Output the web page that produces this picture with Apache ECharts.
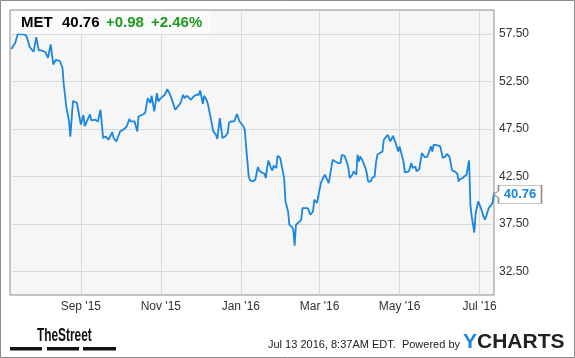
<!DOCTYPE html>
<html><head><meta charset="utf-8">
<script src="https://cdn.jsdelivr.net/npm/echarts@6/dist/echarts.min.js"></script>
<style>html,body{margin:0;padding:0;background:#fff}#c{width:575px;height:358px}</style>
</head><body><div id="c"></div>
<script>
const dates = [
'2015-07-10','2015-07-13','2015-07-14','2015-07-15','2015-07-17','2015-07-19','2015-07-21','2015-07-22','2015-07-24','2015-07-27',
'2015-07-29','2015-07-31','2015-08-02','2015-08-03','2015-08-05','2015-08-07','2015-08-09','2015-08-11','2015-08-13','2015-08-16',
'2015-08-18','2015-08-19','2015-08-21','2015-08-23','2015-08-24','2015-08-26','2015-08-29','2015-08-30','2015-09-01','2015-09-03',
'2015-09-04','2015-09-07','2015-09-08','2015-09-09','2015-09-12','2015-09-14','2015-09-16','2015-09-18','2015-09-20','2015-09-22',
'2015-09-23','2015-09-25','2015-09-26','2015-09-28','2015-10-01','2015-10-02','2015-10-04','2015-10-06','2015-10-08','2015-10-09',
'2015-10-12','2015-10-14','2015-10-15','2015-10-18','2015-10-20','2015-10-21','2015-10-22','2015-10-24','2015-10-25','2015-10-27',
'2015-10-29','2015-10-30','2015-11-01','2015-11-04','2015-11-06','2015-11-08','2015-11-09','2015-11-10','2015-11-12','2015-11-14',
'2015-11-16','2015-11-17','2015-11-18','2015-11-19','2015-11-21','2015-11-22','2015-11-24','2015-11-26','2015-11-28','2015-11-30',
'2015-12-01','2015-12-03','2015-12-04','2015-12-06','2015-12-07','2015-12-09','2015-12-10','2015-12-11','2015-12-13','2015-12-14',
'2015-12-16','2015-12-18','2015-12-20','2015-12-22','2015-12-23','2015-12-25','2015-12-27','2015-12-29','2015-12-31','2016-01-01',
'2016-01-03','2016-01-04','2016-01-05','2016-01-07','2016-01-08','2016-01-10','2016-01-11','2016-01-12','2016-01-14','2016-01-15',
'2016-01-17','2016-01-19','2016-01-20','2016-01-21','2016-01-22','2016-01-24','2016-01-25','2016-01-26','2016-01-28','2016-01-29',
'2016-01-31','2016-02-01','2016-02-03','2016-02-04','2016-02-06','2016-02-07','2016-02-09','2016-02-10','2016-02-11','2016-02-12',
'2016-02-14','2016-02-16','2016-02-17','2016-02-19','2016-02-21','2016-02-23','2016-02-25','2016-02-26','2016-02-28','2016-02-29',
'2016-03-02','2016-03-03','2016-03-05','2016-03-06','2016-03-08','2016-03-09','2016-03-11','2016-03-13','2016-03-15','2016-03-17',
'2016-03-18','2016-03-20','2016-03-22','2016-03-23','2016-03-24','2016-03-26','2016-03-27','2016-03-29','2016-03-30','2016-03-31',
'2016-04-01','2016-04-03','2016-04-05','2016-04-06','2016-04-07','2016-04-09','2016-04-10','2016-04-12','2016-04-13','2016-04-14',
'2016-04-16','2016-04-18','2016-04-19','2016-04-20','2016-04-22','2016-04-23','2016-04-24','2016-04-26','2016-04-27','2016-04-28',
'2016-04-30','2016-05-01','2016-05-02','2016-05-04','2016-05-05','2016-05-06','2016-05-08','2016-05-09','2016-05-10','2016-05-11',
'2016-05-13','2016-05-14','2016-05-16','2016-05-17','2016-05-18','2016-05-20','2016-05-21','2016-05-22','2016-05-23','2016-05-25',
'2016-05-26','2016-05-27','2016-05-28','2016-05-30','2016-06-01','2016-06-02','2016-06-03','2016-06-05','2016-06-06','2016-06-08',
'2016-06-09','2016-06-10','2016-06-12','2016-06-14','2016-06-15','2016-06-16','2016-06-18','2016-06-19','2016-06-21','2016-06-22',
'2016-06-23','2016-06-24','2016-06-25','2016-06-27','2016-06-28','2016-06-30','2016-07-02','2016-07-04','2016-07-05','2016-07-06',
'2016-07-08','2016-07-10','2016-07-11','2016-07-12'
];
const prices = [
55.90,56.55,56.73,57.53,57.43,57.43,57.36,57.08,56.10,55.60,
57.15,55.74,55.74,55.82,55.57,54.97,56.37,54.27,54.76,54.63,
53.92,52.16,49.71,48.31,46.66,50.42,50.24,50.06,47.95,48.94,
47.78,48.73,49.01,48.37,48.45,48.27,49.50,46.52,46.69,46.34,
46.52,47.15,46.52,46.16,47.22,47.05,47.47,47.74,48.52,48.27,
48.27,47.22,48.79,48.97,49.15,49.32,50.73,50.21,50.97,49.32,
51.26,50.37,50.73,51.08,51.68,51.08,50.73,50.55,49.50,49.85,
50.21,50.37,51.08,50.73,50.97,50.84,50.55,50.90,51.08,51.08,
51.53,50.13,50.97,50.48,50.03,48.63,48.79,47.22,46.87,46.42,
48.63,46.52,46.69,47.05,48.16,48.27,48.27,49.05,48.27,48.10,
47.74,47.39,45.64,42.48,42.06,41.95,41.78,42.13,43.47,43.11,
42.90,42.76,42.31,43.36,44.16,43.36,43.11,43.61,43.36,44.66,
44.42,44.24,42.31,39.85,38.79,37.39,37.15,36.87,35.18,37.39,
37.64,37.92,39.15,39.15,39.15,38.45,38.79,40.03,39.68,39.85,
41.78,42.13,42.66,42.84,41.78,41.95,44.24,44.06,43.89,43.89,
44.76,44.66,43.89,43.36,42.31,42.66,43.01,42.66,44.76,44.06,
44.58,44.06,43.36,42.84,41.95,41.95,42.31,42.48,43.89,44.76,
44.94,45.11,46.34,46.16,46.87,46.52,46.16,46.76,46.69,45.99,
45.11,45.64,45.82,44.06,42.90,43.01,43.01,42.90,43.89,43.36,
43.53,43.01,43.26,43.36,44.94,44.52,44.66,44.52,44.66,45.64,
45.11,45.82,45.64,45.74,45.64,45.74,44.42,44.58,44.84,44.58,
43.89,43.11,43.01,42.76,41.95,42.21,42.31,42.48,42.66,42.84,
44.16,39.50,38.27,36.58,38.63,39.85,39.15,38.27,37.92,38.27,
39.15,39.50,39.78,40.76
];
const xTickDates = ['2015-09-01','2015-11-01','2016-01-01','2016-03-01','2016-05-01','2016-07-01'];
const yTickValues = [32.5, 37.5, 42.5, 47.5, 52.5, 57.5];
const xRange = ['2015-07-09', '2016-07-12'];
const yRange = [30, 60];
const ticker = 'MET';
const lastPrice = '40.76';
const change = '+0.98';
const changePct = '+2.46%';
const stamp = 'Jul 13 2016, 8:37AM EDT.  Powered by';
const MONTHS = ['Jan','Feb','Mar','Apr','May','Jun','Jul','Aug','Sep','Oct','Nov','Dec'];

const FONT = '"Liberation Sans", Arial, Helvetica, sans-serif';
const BLUE = '#1a86e0';
const GREEN = '#1e9a1e';
const ts = s => echarts.number.parseDate(s).getTime();
const xTicks = xTickDates.map(ts);
const last = dates.length - 1;

const chart = echarts.init(document.getElementById('c'), null, {renderer: 'canvas'});
chart.setOption({
  animation: false,
  backgroundColor: '#fff',
  grid: {left: 10, top: 10, right: 81, bottom: 63, show: true, backgroundColor: '#f6f6f6',
         borderColor: '#8c8c8c', borderWidth: 1, containLabel: false},
  xAxis: {
    type: 'value', min: ts(xRange[0]), max: ts(xRange[1]),
    axisLine: {show: false},
    axisTick: {show: false, customValues: xTicks},
    axisLabel: {customValues: xTicks, color: '#333', fontSize: 12, fontFamily: FONT, margin: 6,
      formatter: v => { const d = new Date(v); return MONTHS[d.getMonth()] + " '" + String(d.getFullYear()).slice(2); }},
    splitLine: {show: true, lineStyle: {color: '#d9d9d9', width: 1}}
  },
  yAxis: {
    type: 'value', position: 'right', min: yRange[0], max: yRange[1],
    axisLine: {show: false},
    axisTick: {show: false, customValues: yTickValues},
    axisLabel: {customValues: yTickValues, color: '#333', fontSize: 12, fontFamily: FONT, margin: 5,
      formatter: v => Number(v).toFixed(2)},
    splitLine: {show: true, lineStyle: {color: '#d9d9d9', width: 1}}
  },
  series: [{
    type: 'line', data: dates.map((d, i) => [ts(d), prices[i]]),
    showSymbol: false, symbol: 'none', silent: true,
    lineStyle: {color: BLUE, width: 1.8},
    markPoint: {
      silent: true,
      symbol: 'path://M0,9 L5,5.5 L5,0 L48,0 L48,18 L5,18 L5,12.5 Z',
      symbolSize: [48, 18], symbolOffset: [23.5, 1.5],
      itemStyle: {color: '#fff', borderColor: '#8c8c8c', borderWidth: 1},
      label: {show: true, position: 'inside', offset: [2.5, 0], color: BLUE, fontWeight: 'bold',
              fontSize: 13, fontFamily: FONT, formatter: p => Number(p.value).toFixed(2)},
      data: [{coord: [ts(dates[last]), prices[last]], value: prices[last]}]
    }
  }],
  graphic: [
    {type: 'rect', z: 100, silent: true, shape: {x: 0.5, y: 0.5, width: 574, height: 357},
     style: {fill: 'none', stroke: '#8c8c8c', lineWidth: 1}},
    {type: 'rect', z: 100, silent: true, shape: {x: 11, y: 11, width: 200, height: 23},
     style: {fill: 'rgba(255,255,255,0.6)'}},
    {type: 'text', z: 101, x: 21, y: 23, silent: true,
     style: {text: ticker, font: 'bold 15px ' + FONT, fill: '#000', verticalAlign: 'middle'}},
    {type: 'text', z: 101, x: 62, y: 23, silent: true,
     style: {text: lastPrice, font: 'bold 15px ' + FONT, fill: '#000', verticalAlign: 'middle'}},
    {type: 'text', z: 101, x: 106, y: 23, silent: true,
     style: {text: change, font: 'bold 15px ' + FONT, fill: GREEN, verticalAlign: 'middle'}},
    {type: 'text', z: 101, x: 151, y: 23, silent: true,
     style: {text: changePct, font: 'bold 15px ' + FONT, fill: GREEN, verticalAlign: 'middle'}},
    {type: 'text', z: 101, x: 37, y: 336, scaleX: 0.66, silent: true,
     style: {text: 'TheStreet', font: 'bold 18px ' + FONT, fill: '#111', verticalAlign: 'middle'}},
    {type: 'rect', z: 101, silent: true, shape: {x: 10, y: 347, width: 32, height: 3.5}, style: {fill: '#111'}},
    {type: 'rect', z: 101, silent: true, shape: {x: 47, y: 347, width: 32, height: 3.5}, style: {fill: '#111'}},
    {type: 'rect', z: 101, silent: true, shape: {x: 83, y: 347, width: 33, height: 3.5}, style: {fill: '#111'}},
    {type: 'text', z: 101, x: 460, y: 345, silent: true,
     style: {text: stamp, font: '11px ' + FONT, fill: '#222', align: 'right', verticalAlign: 'middle'}},
    {type: 'text', z: 101, x: 463, y: 342, silent: true,
     style: {text: 'Y', font: 'bold 21px ' + FONT, fill: BLUE, verticalAlign: 'middle'}},
    {type: 'text', z: 101, x: 477, y: 342, silent: true,
     style: {text: 'CHARTS', font: 'bold 21px ' + FONT, fill: '#222', verticalAlign: 'middle'}}
  ]
});
</script></body></html>
